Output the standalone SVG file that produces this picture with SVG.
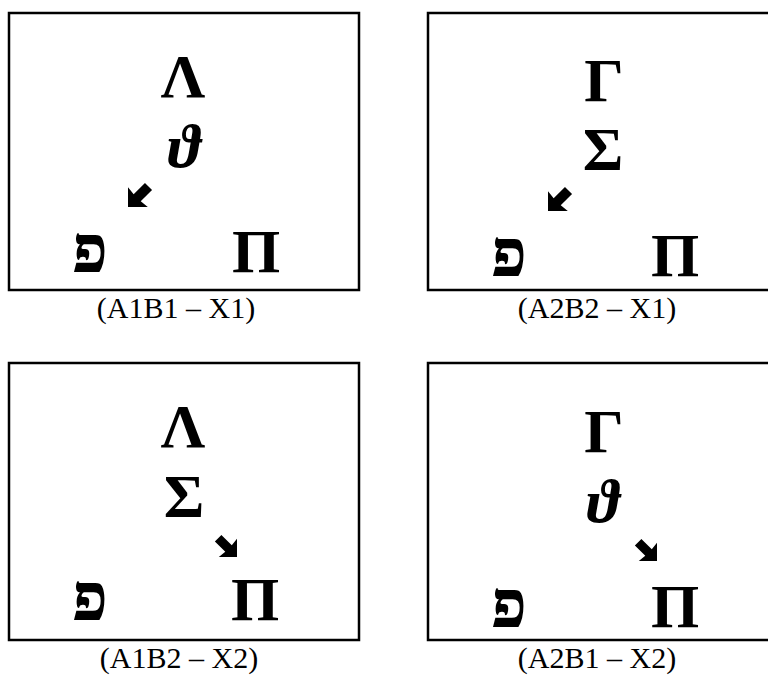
<svg xmlns="http://www.w3.org/2000/svg" width="768" height="675" viewBox="0 0 768 675">
<defs>
<style>
.box{fill:#fff;stroke:#000;stroke-width:2.5}
.sym{font-family:"Liberation Serif","DejaVu Serif",serif;font-weight:bold;font-size:62px;text-anchor:middle;fill:#000}
.th{font-family:"Liberation Serif","DejaVu Serif",serif;font-style:italic;font-weight:bold;font-size:62px;text-anchor:middle;fill:#000}
.heb{font-family:"Liberation Serif","DejaVu Serif",serif;font-weight:bold;font-size:66px;text-anchor:middle;fill:#000}
.lbl{font-family:"Liberation Serif",serif;font-size:30px;text-anchor:middle;fill:#000}
.arr{fill:#000}
</style>
<path id="arrow" d="M0,0 L14,-14 L13,-5 L29,-5 L29,5 L13,5 L14,14 Z"/>
</defs>
<rect width="768" height="675" fill="#fff"/>
<g id="panel-A1B1-X1">
<rect class="box" x="9" y="13" width="350" height="277"/>
<text class="sym" x="183" y="97">Λ</text>
<text class="th" x="184" y="167">ϑ</text>
<text class="heb" x="90" y="272">פ</text>
<text class="sym" x="256" y="272">Π</text>
<text class="lbl" x="176" y="318">(A1B1 – X1)</text>
</g>
<g id="panel-A2B2-X1">
<rect class="box" x="428" y="13" width="350" height="277"/>
<text class="sym" x="604" y="101">Γ</text>
<text class="sym" x="603" y="170">Σ</text>
<text class="heb" x="509" y="276">פ</text>
<text class="sym" x="675" y="276">Π</text>
<text class="lbl" x="597" y="318">(A2B2 – X1)</text>
</g>
<g id="panel-A1B2-X2">
<rect class="box" x="9" y="363" width="350" height="277"/>
<text class="sym" x="183" y="447">Λ</text>
<text class="sym" x="184" y="517">Σ</text>
<text class="heb" x="90" y="620">פ</text>
<text class="sym" x="255" y="620">Π</text>
<text class="lbl" x="179" y="668">(A1B2 – X2)</text>
</g>
<g id="panel-A2B1-X2">
<rect class="box" x="428" y="363" width="350" height="277"/>
<text class="sym" x="604" y="452">Γ</text>
<text class="th" x="603" y="522">ϑ</text>
<text class="heb" x="509" y="627">פ</text>
<text class="sym" x="675" y="627">Π</text>
<text class="lbl" x="597" y="668">(A2B1 – X2)</text>
</g>
<g id="connectors">
<use class="arr" href="#arrow" transform="translate(128,207) rotate(-45)"/>
<use class="arr" href="#arrow" transform="translate(548,211) rotate(-45)"/>
<use class="arr" href="#arrow" transform="translate(237,557) rotate(-135) scale(0.92)"/>
<use class="arr" href="#arrow" transform="translate(657,561) rotate(-135) scale(0.92)"/>
</g>
</svg>
